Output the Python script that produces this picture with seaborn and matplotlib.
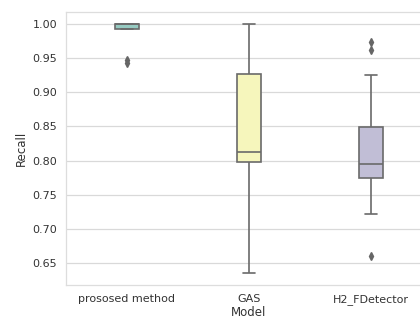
import matplotlib
matplotlib.use("Agg")
import matplotlib.pyplot as plt
import seaborn as sns
import pandas as pd

# Recall per run for each model
models = ["prososed method", "GAS", "H2_FDetector"]
recall_proposed = [0.943, 0.948, 0.992, 0.993, 1.0, 1.0, 1.0, 1.0, 1.0, 1.0, 1.0, 1.0, 1.0]
recall_gas = [0.635, 0.798, 0.798, 0.8125, 0.927, 0.927, 1.00]
recall_h2 = [0.660, 0.722, 0.774, 0.774, 0.795, 0.795, 0.795, 0.849, 0.849, 0.849,
             0.925, 0.962, 0.974]
yticks = [0.65, 0.70, 0.75, 0.80, 0.85, 0.90, 0.95, 1.00]

df = pd.DataFrame({
    "Model": [models[0]] * len(recall_proposed) + [models[1]] * len(recall_gas)
             + [models[2]] * len(recall_h2),
    "Recall": recall_proposed + recall_gas + recall_h2,
})

sns.set_theme(style="whitegrid")
plt.rcParams["font.family"] = ["DejaVu Sans"]

fig = plt.figure(figsize=(4.2, 3.22), dpi=100)
ax = fig.add_axes([66 / 420, 37 / 322, 366 / 420, 273 / 322])

sns.boxplot(data=df, x="Model", y="Recall", hue="Model", palette="Set3",
            width=0.2, linewidth=1.2, legend=False, ax=ax,
            flierprops=dict(marker="d", markersize=4, markerfacecolor="#666666",
                            markeredgecolor="#666666"))

ax.set_ylim(0.6178, 1.0176)
ax.set_yticks(yticks)
ax.set_yticklabels([f"{v:.2f}" for v in yticks])
ax.tick_params(labelsize=8, colors="#333333", length=0, pad=6.5)
ax.grid(axis="y", color="#d9d9d9", linewidth=0.9)
ax.set_xlabel("Model", fontsize=8.5, color="#333333", labelpad=1)
ax.set_ylabel("Recall", fontsize=8.5, color="#333333", labelpad=3)
for s in ax.spines.values():
    s.set_color("#dddddd")
    s.set_linewidth(0.9)

fig.savefig("out.png", dpi=100)
